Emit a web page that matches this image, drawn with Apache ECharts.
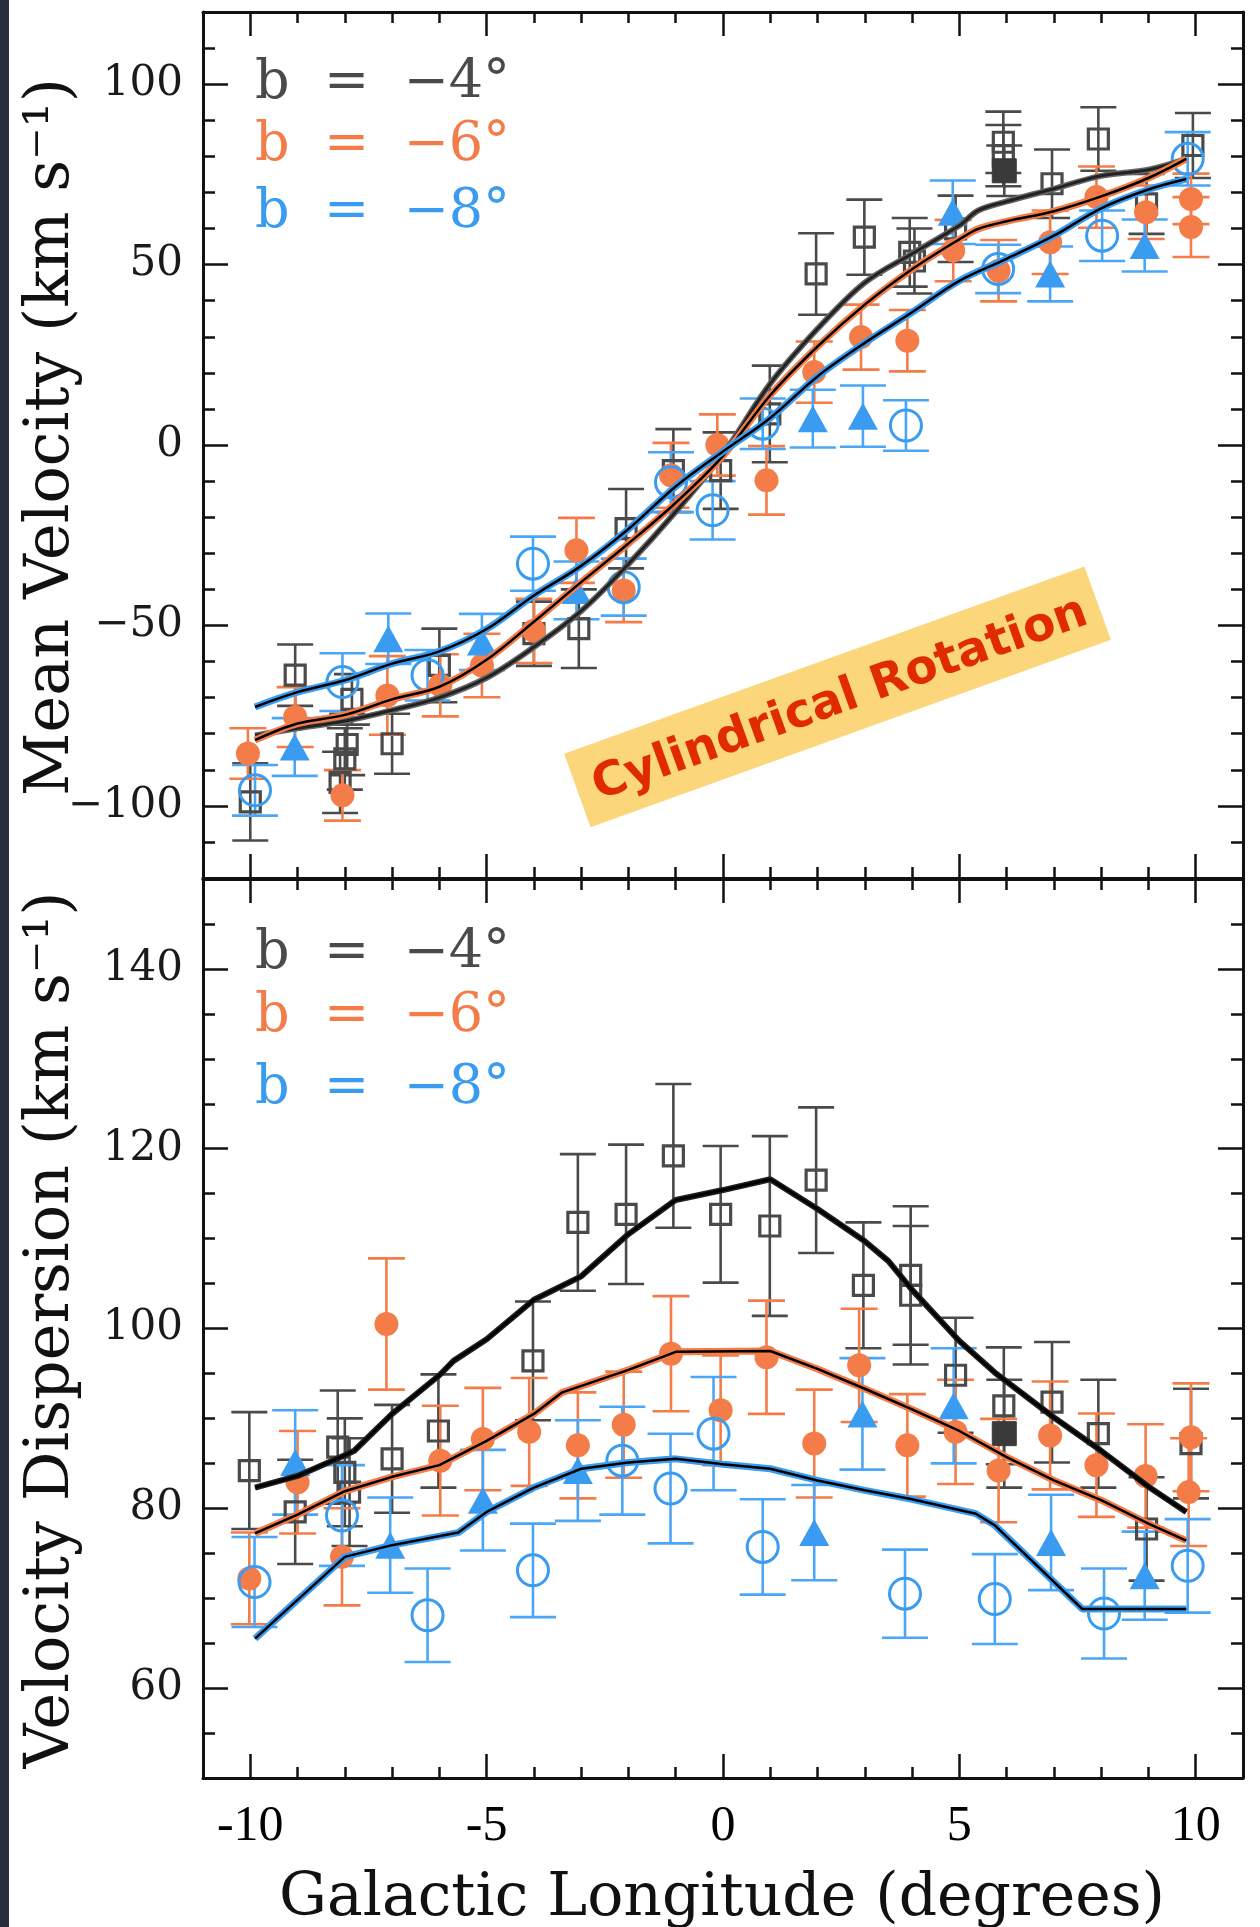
<!DOCTYPE html>
<html>
<head>
<meta charset="utf-8">
<script src="https://cdn.jsdelivr.net/npm/echarts@6/dist/echarts.min.js"></script>
<style>
html,body{margin:0;padding:0;background:#fff;}
#chart{width:1260px;height:1927px;}
</style>
</head>
<body>
<div id="chart"></div>
<script>
// ---------------- DATA ----------------
// x tick labels (Galactic longitude), y tick labels
const xMajorTicks = [-10, -5, 0, 5, 10];
const topMajorTicks = [-100, -50, 0, 50, 100];
const lowMajorTicks = [60, 80, 100, 120, 140];

// Top panel: mean velocity [l, v, err]
const topGraySq = [
  [-10.0, -98.9, 10.7], [-9.05, -63.8, 8.5],
  [-8.1, -93.5, 8.5], [-8.0, -87.0, 8.5], [-7.95, -83.0, 8.5], [-7.85, -70.5, 7.0],
  [-7.0, -82.8, 8.3], [-6.0, -61.1, 10.2], [-4.0, -52.3, 8.9], [-3.05, -50.9, 10.9],
  [-2.05, -23.2, 11.0], [-1.05, -7.1, 11.5], [-0.05, -7.1, 10.6], [0.99, 8.6, 13.4],
  [1.97, 47.4, 11.3], [2.99, 57.6, 10.4], [3.95, 53.4, 9.5], [4.05, 51.0, 9.0],
  [4.92, 59.9, 9.2], [5.93, 83.9, 8.5], [5.93, 80.2, 8.5], [6.96, 72.4, 9.5],
  [7.94, 84.8, 8.8], [8.96, 66.8, 8.3], [9.94, 83.0, 9.0]
];
const topGrayFilled = [[5.95, 76.0, 7.0]];
const topOrange = [
  [-10.05, -85.5, 7.0], [-9.05, -75.4, 8.3], [-8.05, -97.1, 7.0], [-7.1, -69.4, 10.9],
  [-5.98, -66.6, 8.6], [-5.1, -61.1, 8.8], [-4.0, -51.5, 8.9], [-3.1, -29.2, 9.0],
  [-2.1, -40.3, 8.8], [-1.1, -8.4, 9.0], [-0.12, 0.0, 8.5], [0.92, -9.8, 9.5],
  [1.93, 20.2, 8.5], [2.92, 29.9, 9.0], [3.9, 28.9, 8.5], [4.87, 53.9, 8.5],
  [5.83, 48.3, 8.5], [6.92, 56.2, 8.8], [7.9, 68.7, 8.5], [8.95, 64.5, 7.4],
  [9.9, 68.2, 7.0], [9.9, 60.4, 8.3]
];
const topBlueCircle = [
  [-9.9, -95.7, 7.0], [-8.05, -65.7, 8.0], [-6.25, -63.8, 7.0], [-4.02, -32.9, 7.5],
  [-2.1, -39.4, 7.9], [-1.1, -10.3, 8.3], [-0.22, -18.1, 8.1], [0.84, 5.9, 7.0],
  [3.87, 5.4, 7.0], [5.82, 48.8, 6.7], [8.02, 58.0, 7.0], [9.83, 79.3, 7.4]
];
const topBlueTri = [
  [-9.06, -83.7, 8.0], [-7.08, -53.7, 7.0], [-5.1, -54.6, 7.8], [-3.1, -40.3, 8.0],
  [1.9, 7.3, 8.0], [2.96, 8.0, 8.5], [4.86, 64.5, 8.8], [6.92, 47.4, 7.6], [8.92, 55.3, 7.2]
];
// Top panel model curves [l, v]
const topModelGray = [
  [-9.9, -80.5], [-9, -78.5], [-8, -76.5], [-7, -73.5], [-6, -70], [-5, -64.5], [-4, -56],
  [-3, -46], [-2, -33], [-1, -18.5], [0, -2.5], [1, 17], [2, 32.2], [3, 45], [4, 53],
  [5, 60.8], [5.4, 65], [6, 67.5], [7, 71], [8, 74.6], [9, 76.3], [9.8, 79.3]
];
const topModelOrange = [
  [-9.9, -81.8], [-9, -77.2], [-8, -74.8], [-7, -70.5], [-6, -67], [-5, -59.5], [-4, -49],
  [-3, -38], [-2, -27.3], [-1, -16], [0, -3], [1, 13.8], [2, 27.3], [3, 38.9], [4, 48.7],
  [5, 57], [5.4, 59.9], [6, 62], [7, 64.8], [8, 68.9], [9, 74], [9.8, 79.3]
];
const topModelBlue = [
  [-9.9, -72.6], [-9, -68.5], [-8, -65.2], [-7, -60.6], [-6, -57.2], [-5, -51],
  [-4, -41.7], [-3, -33.5], [-2, -23.3], [-1, -11.5], [0, -1.8], [1, 7.5], [2, 19], [3, 28.3],
  [4, 36.8], [5, 45.5], [6, 51.6], [7, 58], [8, 65.6], [9, 70.8], [9.8, 73.7]
];

// Lower panel: velocity dispersion [l, sigma, err]
const lowGraySq = [
  [-10.02, 84.2, 6.5], [-9.05, 79.6, 5.8], [-8.15, 86.8, 6.3], [-8.0, 84.0, 6.0], [-7.9, 81.8, 6.0],
  [-7.0, 85.5, 6.0], [-6.02, 88.6, 6.3], [-4.02, 96.4, 6.6], [-3.07, 111.8, 7.6], [-2.05, 112.7, 7.75],
  [-1.05, 119.2, 8.0], [-0.05, 112.7, 7.6], [0.99, 111.4, 10.0], [1.97, 116.5, 8.1], [2.97, 104.8, 7.0],
  [3.97, 105.9, 7.7], [3.97, 103.7, 7.7], [4.92, 94.8, 6.4], [5.94, 91.4, 6.5], [6.96, 91.8, 6.7],
  [7.94, 88.3, 6.0], [8.96, 77.7, 5.75], [9.9, 87.2, 6.1]
];
const lowGrayFilled = [[5.95, 88.3, 6.0]];
const lowOrange = [
  [-10.02, 72.2, 5.1], [-9.0, 82.9, 5.7], [-8.06, 74.6, 5.4], [-7.12, 100.5, 7.3], [-5.98, 85.3, 6.1],
  [-5.08, 87.7, 5.7], [-4.1, 88.5, 6.0], [-3.07, 87.0, 5.9], [-2.1, 89.3, 5.9], [-1.1, 97.2, 6.4],
  [-0.05, 90.9, 6.1], [0.92, 96.8, 6.3], [1.93, 87.2, 6.0], [2.88, 95.9, 6.3], [3.9, 87.0, 5.7],
  [4.92, 88.5, 5.8], [5.83, 84.2, 5.75], [6.92, 88.1, 6.0], [7.9, 84.8, 5.75], [8.94, 83.6, 5.75],
  [9.9, 87.9, 6.0], [9.85, 81.8, 6.0]
];
const lowBlueCircle = [
  [-9.91, 71.8, 5.0], [-8.06, 79.2, 5.6], [-6.25, 68.1, 5.2], [-4.02, 73.1, 5.2], [-2.13, 85.3, 6.0],
  [-1.11, 82.2, 6.1], [-0.2, 88.3, 6.3], [0.84, 75.7, 5.3], [3.85, 70.5, 4.9], [5.75, 69.9, 5.0],
  [8.06, 68.3, 5.0], [9.83, 73.6, 5.2]
];
const lowBlueTri = [
  [-9.05, 85.1, 5.8], [-7.04, 75.9, 5.3], [-5.08, 80.9, 5.6], [-3.07, 84.2, 5.6], [1.93, 77.3, 5.3],
  [2.95, 90.5, 6.2], [4.88, 91.4, 6.4], [6.94, 76.2, 5.3], [8.92, 72.5, 4.9]
];
// Lower panel model curves [l, sigma]
const lowModelGray = [
  [-9.9, 82.3], [-9, 83.6], [-8, 85.9], [-7.8, 86.4], [-7, 90.5], [-6, 94.8], [-5.7, 96.4],
  [-5, 98.8], [-4, 103.2], [-3, 105.8], [-2, 110.5], [-1, 114.3], [0, 115.4], [1, 116.6],
  [2, 113.3], [3, 109.7], [3.5, 107.5], [4, 104.3], [5, 98.6], [5.75, 95.1], [7, 90.1],
  [8, 86.4], [9, 82.4], [9.8, 79.6]
];
const lowModelOrange = [
  [-9.9, 77.2], [-9, 79.3], [-8, 81.9], [-7, 83.5], [-6, 84.8], [-5, 87.5], [-4, 90.5],
  [-3.4, 92.9], [-2, 95.4], [-1, 97.4], [1, 97.5], [2, 95.5], [3, 93.3], [4, 91], [5, 88.6],
  [6, 85.7], [7, 83.1], [8, 80.9], [9, 78.3], [9.8, 76.4]
];
const lowModelBlue = [
  [-9.9, 65.5], [-8, 74.6], [-7, 75.9], [-5.6, 77.3], [-5, 79.6], [-4, 82.3], [-3, 84.4],
  [-2, 85.1], [-1, 85.5], [0, 84.9], [1, 84.4], [2, 83.1], [3, 82], [4, 81], [5.35, 79.4],
  [5.75, 78.1], [7.6, 68.8], [9.8, 68.8]
];

const legendLabels = ['b  =  \u22124\u00b0', 'b  =  \u22126\u00b0', 'b  =  \u22128\u00b0'];

// ---------------- STYLE ----------------
const GRAY = '#4a4a4a', ORANGE = '#f47c48', BLUE = '#3a9cf0', BLUEBAR = '#4ba6f5';
const INK = '#111';
const serif = '"DejaVu Serif", serif';

function minus(v) { return v < 0 ? '\u2212' + Math.abs(v) : String(v); }

function xAxesFor(gi, showLabels) {
  const line = { show: true, onZero: false, lineStyle: { color: INK, width: 3 } };
  const tick = { color: INK, width: 2.5 };
  const base = { type: 'value', gridIndex: gi, min: -11, max: 11, splitLine: { show: false } };
  const lbl = {
    show: showLabels, customValues: xMajorTicks, margin: 24,
    fontFamily: '"Liberation Serif", serif', fontSize: 50, color: '#000',
    formatter: v => (v < 0 ? '-' + Math.abs(v) : String(v))
  };
  return [
    Object.assign({}, base, { position: 'bottom', interval: 1, axisLine: line,
      axisTick: { inside: true, length: 11, lineStyle: tick }, axisLabel: { show: false } }),
    Object.assign({}, base, { position: 'bottom', axisLine: { show: false, onZero: false },
      axisTick: { inside: true, length: 24, customValues: xMajorTicks, lineStyle: tick }, axisLabel: lbl }),
    Object.assign({}, base, { position: 'top', interval: 1, axisLine: line,
      axisTick: { inside: true, length: 11, lineStyle: tick }, axisLabel: { show: false } }),
    Object.assign({}, base, { position: 'top', axisLine: { show: false, onZero: false },
      axisTick: { inside: true, length: 24, customValues: xMajorTicks, lineStyle: tick }, axisLabel: { show: false } })
  ];
}
function yAxesFor(gi, min, max, minor, majors) {
  const line = { show: true, onZero: false, lineStyle: { color: INK, width: 3 } };
  const tick = { color: INK, width: 2.5 };
  const base = { type: 'value', gridIndex: gi, min: min, max: max, splitLine: { show: false } };
  return [
    Object.assign({}, base, { position: 'left', interval: minor, axisLine: line,
      axisTick: { inside: true, length: 12, lineStyle: tick }, axisLabel: { show: false } }),
    Object.assign({}, base, { position: 'left', axisLine: { show: false, onZero: false },
      axisTick: { inside: true, length: 25, customValues: majors, lineStyle: tick },
      axisLabel: { show: true, customValues: majors, margin: 20, fontFamily: serif, fontSize: 42,
        color: '#1a1a1a', formatter: minus } }),
    Object.assign({}, base, { position: 'right', interval: minor, axisLine: line,
      axisTick: { inside: true, length: 12, lineStyle: tick }, axisLabel: { show: false } }),
    Object.assign({}, base, { position: 'right', axisLine: { show: false, onZero: false },
      axisTick: { inside: true, length: 25, customValues: majors, lineStyle: tick }, axisLabel: { show: false } })
  ];
}

function errBars(data, color, capW, ai) {
  return {
    type: 'custom', xAxisIndex: ai, yAxisIndex: ai, data: data, z: 2, silent: true,
    renderItem: function (params, api) {
      const x = api.value(0), y = api.value(1), e = api.value(2);
      const a = api.coord([x, y + e]), b = api.coord([x, y - e]);
      const st = { stroke: color, lineWidth: 2.6 };
      const h = capW / 2;
      return { type: 'group', children: [
        { type: 'line', shape: { x1: a[0], y1: a[1], x2: b[0], y2: b[1] }, style: st },
        { type: 'line', shape: { x1: a[0] - h, y1: a[1], x2: a[0] + h, y2: a[1] }, style: st },
        { type: 'line', shape: { x1: b[0] - h, y1: b[1], x2: b[0] + h, y2: b[1] }, style: st }
      ] };
    }
  };
}
function pts(data, ai, symbol, size, fill, border, bw, z) {
  return {
    type: 'scatter', xAxisIndex: ai, yAxisIndex: ai, data: data, symbol: symbol, symbolSize: size,
    itemStyle: { color: fill, borderColor: border, borderWidth: bw, opacity: 1 }, z: z, silent: true
  };
}
function model(data, ai, color, outerW, innerColor, innerW, smooth, z) {
  const common = { type: 'line', xAxisIndex: ai, yAxisIndex: ai, data: data, symbol: 'none',
    smooth: smooth, silent: true };
  return [
    Object.assign({}, common, { lineStyle: { color: color, width: outerW }, z: z }),
    Object.assign({}, common, { lineStyle: { color: innerColor, width: innerW }, z: z + 1 })
  ];
}

function panelSeries(ai, grayS, grayF, orange, bCirc, bTri, mG, mO, mB, smooth, gOuter, gInner) {
  return [
    errBars(grayS, GRAY, 36, ai),
    errBars(grayF, GRAY, 36, ai),
    errBars(orange, ORANGE, 37, ai),
    errBars(bCirc, BLUEBAR, 46, ai),
    errBars(bTri, BLUEBAR, 46, ai),
    pts(grayS, ai, 'rect', 20, 'rgba(0,0,0,0)', GRAY, 3.2, 3),
    pts(grayF, ai, 'rect', 24, '#3a3a3a', '#3a3a3a', 1, 3),
    pts(orange, ai, 'circle', 24, ORANGE, ORANGE, 0, 4),
    pts(bCirc, ai, 'circle', 31, 'rgba(0,0,0,0)', BLUE, 3, 5),
    pts(bTri, ai, 'triangle', [30, 27], BLUE, BLUE, 0, 5),
    ...model(mG, ai, gOuter, 6, gInner, 3, smooth, 6),
    ...model(mO, ai, ORANGE, 7, '#000', 2.5, smooth, 8),
    ...model(mB, ai, BLUE, 7, '#000', 2.5, smooth, 10)
  ];
}

function legendTexts(baseY) {
  const cols = [GRAY, ORANGE, BLUE];
  return legendLabels.map((t, i) => ({
    type: 'text', x: 255, y: baseY[i], z: 50, silent: true,
    style: { text: t, fill: cols[i], fontFamily: serif, fontSize: 54, align: 'left', verticalAlign: 'middle' }
  }));
}

const chart = echarts.init(document.getElementById('chart'), null, { renderer: 'canvas' });
const option = {
  animation: false,
  backgroundColor: '#ffffff',
  grid: [
    { left: 203, top: 12, width: 1040, height: 866 },
    { left: 203, top: 879, width: 1040, height: 899 }
  ],
  xAxis: [...xAxesFor(0, false), ...xAxesFor(1, true)],
  yAxis: [...yAxesFor(0, -120, 120, 10, topMajorTicks), ...yAxesFor(1, 50, 150, 5, lowMajorTicks)],
  series: [
    ...panelSeries(0, topGraySq, topGrayFilled, topOrange, topBlueCircle, topBlueTri,
      topModelGray, topModelOrange, topModelBlue, 0.35, '#666', '#222'),
    ...panelSeries(4, lowGraySq, lowGrayFilled, lowOrange, lowBlueCircle, lowBlueTri,
      lowModelGray, lowModelOrange, lowModelBlue, false, '#222', '#000')
  ],
  graphic: [
    { type: 'rect', x: 0, y: 0, z: 60, silent: true, shape: { width: 9, height: 1927 }, style: { fill: '#2c2d3b' } },
    ...legendTexts([84, 146, 213]),
    ...legendTexts([954, 1017, 1089]),
    { type: 'text', x: 722, y: 1899, z: 50, silent: true,
      style: { text: 'Galactic Longitude (degrees)', fill: INK, fontFamily: serif, fontSize: 60,
        align: 'center', verticalAlign: 'middle' } },
    { type: 'text', x: 52, y: 437, rotation: Math.PI / 2, z: 50, silent: true,
      style: { text: 'Mean Velocity (km s\u207b\u00b9)', fill: INK, fontFamily: serif, fontSize: 62,
        align: 'center', verticalAlign: 'middle' } },
    { type: 'text', x: 52, y: 1330, rotation: Math.PI / 2, z: 50, silent: true,
      style: { text: 'Velocity Dispersion (km s\u207b\u00b9)', fill: INK, fontFamily: serif, fontSize: 62,
        align: 'center', verticalAlign: 'middle' } },
    { type: 'group', x: 837, y: 697, rotation: 19.8 * Math.PI / 180, z: 55, silent: true, children: [
      { type: 'rect', shape: { x: -276, y: -39, width: 553, height: 78 }, style: { fill: '#fcd67b' } },
      { type: 'text', x: 2, y: 4, style: { text: 'Cylindrical Rotation', fill: '#e02a00',
        fontFamily: '"DejaVu Sans", sans-serif', fontWeight: 'bold', fontSize: 47,
        align: 'center', verticalAlign: 'middle' } }
    ] }
  ]
};
chart.setOption(option);
</script>
</body>
</html>
